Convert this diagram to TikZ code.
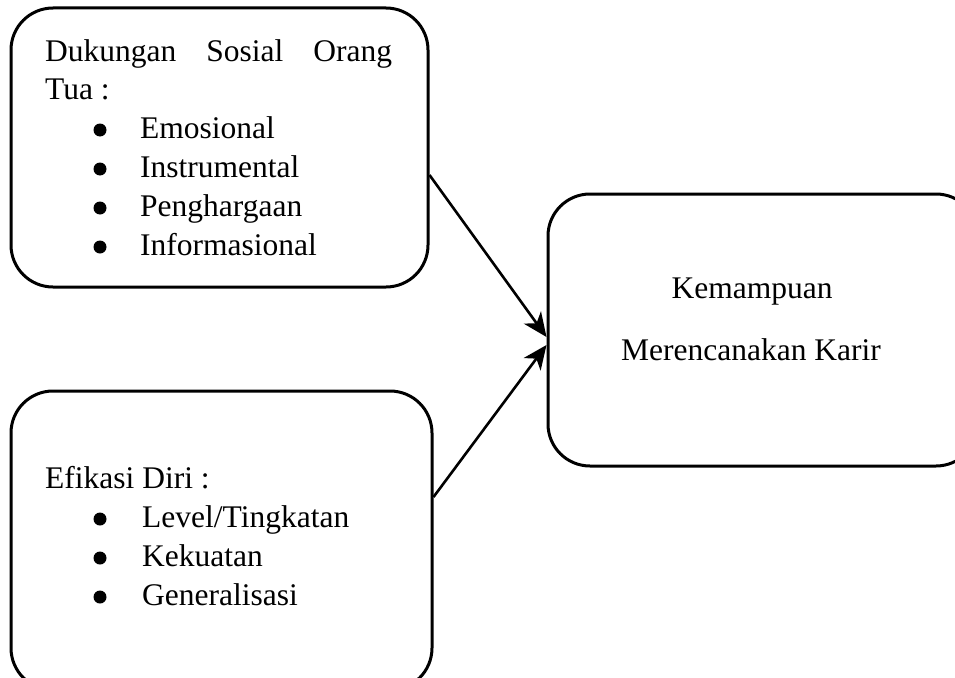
\documentclass[tikz,border=0pt]{standalone}
\usepackage{fontspec}
\setmainfont{Liberation Serif}
\usetikzlibrary{arrows.meta}
\begin{document}
\begin{tikzpicture}[x=1pt,y=-1pt,
  box/.style={draw,line width=3pt,rounded corners=42pt,inner sep=0pt},
  txt/.style={anchor=base west,inner sep=0pt,font=\fontsize{31.5}{39}\selectfont},
  ctxt/.style={anchor=base,inner sep=0pt,font=\fontsize{31.5}{39}\selectfont},
  bul/.style={circle,fill=black,inner sep=0pt,minimum size=13pt},
  conn/.style={line width=2.6pt,-{Stealth[length=24pt,width=21pt,inset=7pt]}}]
\useasboundingbox (0,0) rectangle (955,677);
\clip (0,0) rectangle (955,677);
% boxes
\node[box,minimum width=417pt,minimum height=279pt] (a) at (219.5,147.5) {};
\node[box,minimum width=421pt,minimum height=299pt] (b) at (221.5,540.5) {};
\node[box,minimum width=430pt,minimum height=272pt] (c) at (763,330) {};
% top-left text
\node[txt] (a1) at (45,62) {\makebox[347pt][s]{Dukungan\hfill Sosial\hfill Orang}};
\node[txt] (a2) at (45,99) {Tua :};
\node[bul] (a3b) at (100,130) {};
\node[txt] (a3) at (140,138) {Emosional};
\node[bul] (a4b) at (100,169) {};
\node[txt] (a4) at (140,177) {Instrumental};
\node[bul] (a5b) at (100,208) {};
\node[txt] (a5) at (140,216) {Penghargaan};
\node[bul] (a6b) at (100,247) {};
\node[txt] (a6) at (140,255) {Informasional};
% bottom-left text
\node[txt] (b1) at (45,488) {Efikasi Diri :};
\node[bul] (b2b) at (100,519) {};
\node[txt] (b2) at (142,527) {Level/Tingkatan};
\node[bul] (b3b) at (100,558) {};
\node[txt] (b3) at (142,566) {Kekuatan};
\node[bul] (b4b) at (100,597) {};
\node[txt] (b4) at (142,605) {Generalisasi};
% right text
\node[ctxt] (c1) at (752,298) {Kemampuan};
\node[ctxt] (c2) at (751,360) {Merencanakan Karir};
% connectors
\draw[conn] ([yshift=-27.5pt]a.east) -- ([yshift=-7pt]c.west);
\draw[conn] ([yshift=43.5pt]b.east) -- ([yshift=-15pt]c.west);
\end{tikzpicture}
\end{document}
